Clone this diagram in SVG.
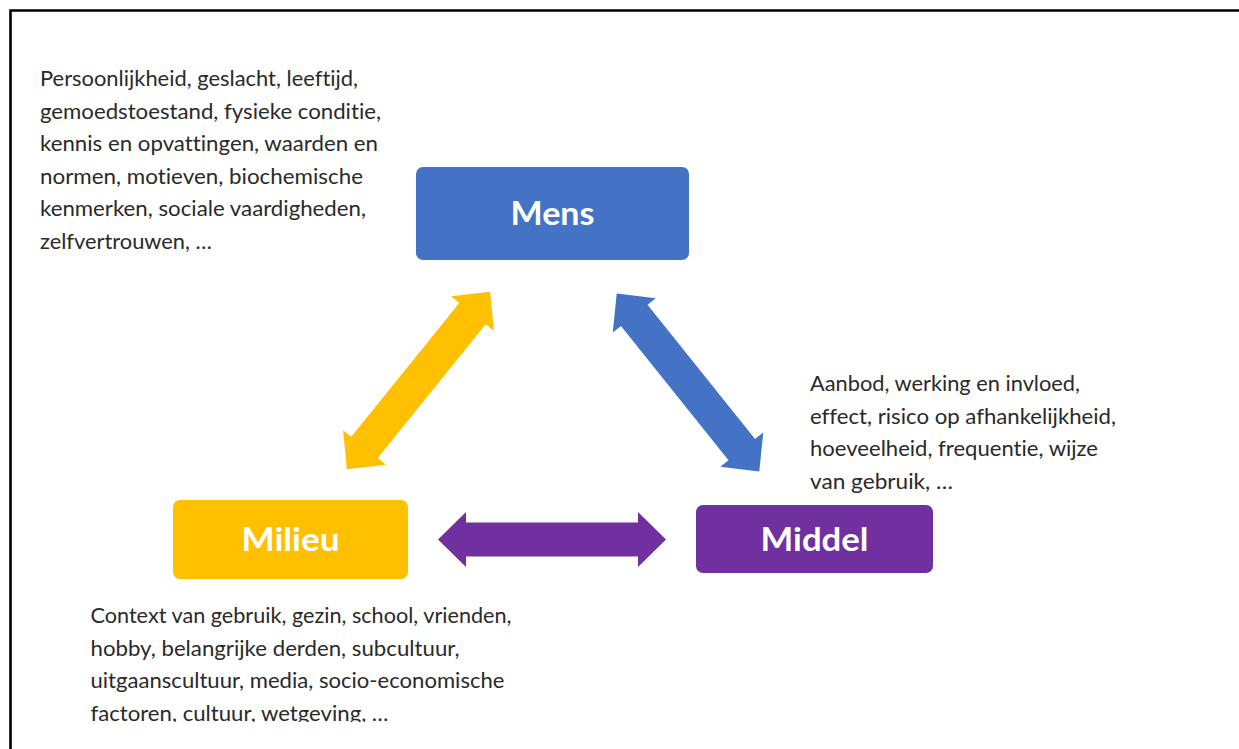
<svg xmlns="http://www.w3.org/2000/svg" width="1239" height="749" viewBox="0 0 1239 749">
  <style>
    .body { font-family: "Lato", "Liberation Sans", sans-serif; font-size: 20.5px; font-weight: 400; fill: #2a2a2a; font-variant-ligatures: none; font-feature-settings: "liga" 0, "clig" 0; }
    .label { font-family: "Lato", "Open Sans", sans-serif; font-size: 32px; font-weight: bold; fill: #ffffff; text-anchor: middle; }
  </style>
  <defs>
    <path id="dblArrow" d="M -114 0 L -86 -27.5 L -86 -17 L 86 -17 L 86 -27.5 L 114 0 L 86 27.5 L 86 17 L -86 17 L -86 27.5 Z"/>
    <clipPath id="clipBottom">
      <rect x="0" y="590" width="600" height="132"/>
    </clipPath>
  </defs>
  <rect x="0" y="0" width="1239" height="749" fill="#ffffff"/>
  <path d="M 1245 10.5 H 10.5 V 755" fill="none" stroke="#000000" stroke-width="2.6"/>

  <g id="connectors">
    <use href="#dblArrow" fill="#FFC000" transform="translate(418.5 380.5) rotate(-51.1)"/>
    <use href="#dblArrow" fill="#4472C4" transform="translate(688 382.5) rotate(51.3)"/>
    <use href="#dblArrow" fill="#7030A0" transform="translate(552 539.5)"/>
  </g>

  <g id="node-mens">
    <rect x="416" y="167" width="273" height="93" rx="7" fill="#4472C4"/>
    <text class="label" x="552.5" y="224.5" textLength="84" lengthAdjust="spacingAndGlyphs">Mens</text>
  </g>
  <g id="node-milieu">
    <rect x="173" y="500" width="235" height="79" rx="7" fill="#FFC000"/>
    <text class="label" x="290.5" y="551" textLength="98" lengthAdjust="spacingAndGlyphs">Milieu</text>
  </g>
  <g id="node-middel">
    <rect x="696" y="505" width="237" height="68" rx="7" fill="#7030A0"/>
    <text class="label" x="814.5" y="551" textLength="108" lengthAdjust="spacingAndGlyphs">Middel</text>
  </g>

  <g id="text-mens">
    <text class="body" x="40" y="86" textLength="318" lengthAdjust="spacingAndGlyphs">Persoonlijkheid, geslacht, leeftijd,</text>
    <text class="body" x="40" y="118.5" textLength="341" lengthAdjust="spacingAndGlyphs">gemoedstoestand, fysieke conditie,</text>
    <text class="body" x="40" y="151" textLength="338" lengthAdjust="spacingAndGlyphs">kennis en opvattingen, waarden en</text>
    <text class="body" x="40" y="183.5" textLength="323" lengthAdjust="spacingAndGlyphs">normen, motieven, biochemische</text>
    <text class="body" x="40" y="216" textLength="326" lengthAdjust="spacingAndGlyphs">kenmerken, sociale vaardigheden,</text>
    <text class="body" x="40" y="248.5" textLength="172" lengthAdjust="spacingAndGlyphs">zelfvertrouwen, …</text>
  </g>

  <g id="text-middel">
    <text class="body" x="810" y="391" textLength="270" lengthAdjust="spacingAndGlyphs">Aanbod, werking en invloed,</text>
    <text class="body" x="810" y="423.5" textLength="306" lengthAdjust="spacingAndGlyphs">effect, risico op afhankelijkheid,</text>
    <text class="body" x="810" y="456" textLength="288" lengthAdjust="spacingAndGlyphs">hoeveelheid, frequentie, wijze</text>
    <text class="body" x="810" y="488.5" textLength="143" lengthAdjust="spacingAndGlyphs">van gebruik, …</text>
  </g>

  <g id="text-milieu" clip-path="url(#clipBottom)">
    <text class="body" x="90.5" y="623" textLength="421" lengthAdjust="spacingAndGlyphs">Context van gebruik, gezin, school, vrienden,</text>
    <text class="body" x="90.5" y="655.5" textLength="369" lengthAdjust="spacingAndGlyphs">hobby, belangrijke derden, subcultuur,</text>
    <text class="body" x="90.5" y="688" textLength="414" lengthAdjust="spacingAndGlyphs">uitgaanscultuur, media, socio-economische</text>
    <text class="body" x="90.5" y="720.5" textLength="298" lengthAdjust="spacingAndGlyphs">factoren, cultuur, wetgeving, …</text>
  </g>
</svg>
